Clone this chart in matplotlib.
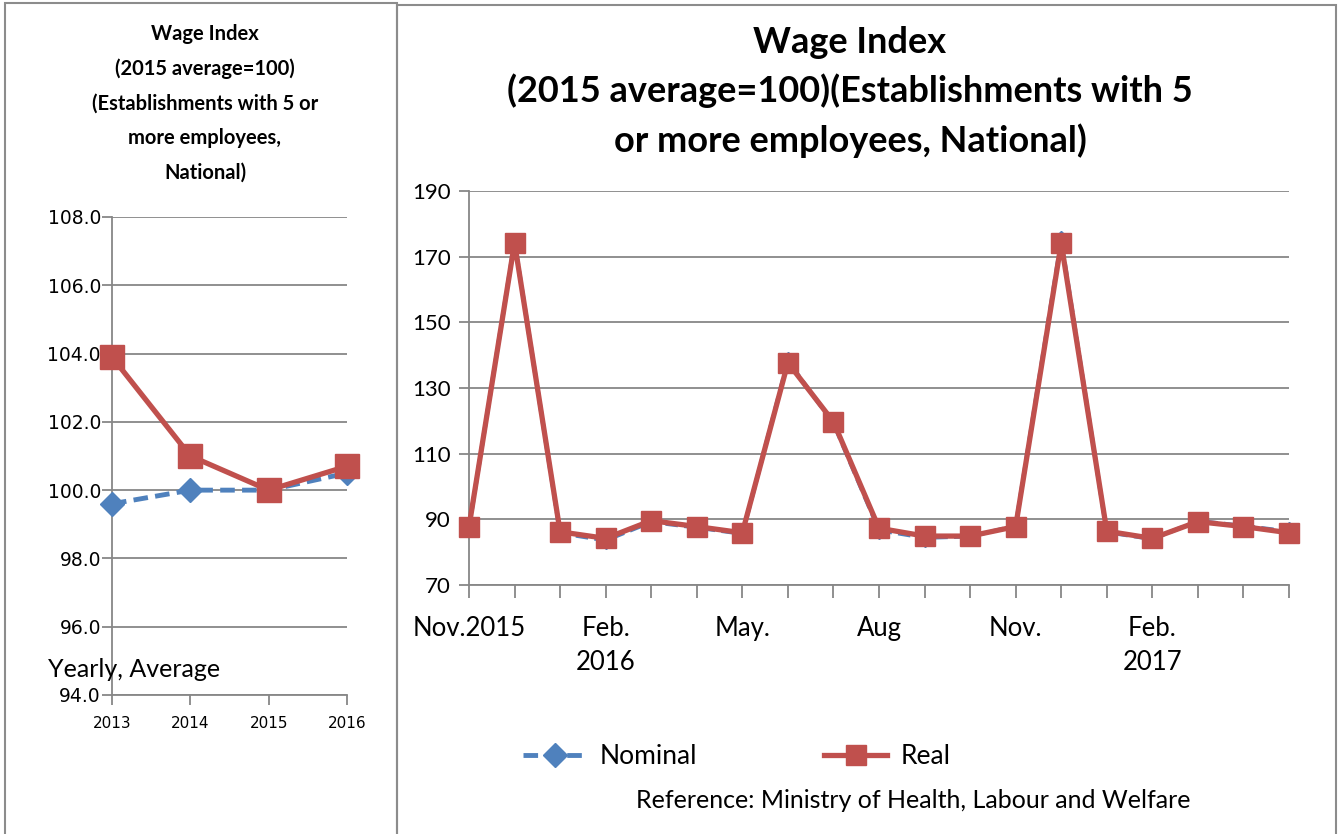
import matplotlib.pyplot as plt
from matplotlib.patches import Rectangle
from matplotlib.lines import Line2D

# yearly average (left panel)
years = ["2013", "2014", "2015", "2016"]
nominal_year = [99.6, 100.0, 100.0, 100.5]
real_year = [103.9, 101.0, 100.0, 100.7]

# monthly, Nov.2015 - May 2017 (right panel)
month_labels = ["Nov.2015", "", "", "Feb.\n2016", "", "", "May.", "", "", "Aug",
                "", "", "Nov.", "", "", "Feb.\n2017", "", "", ""]
nominal_month = [87.5, 174.5, 85.8, 83.6, 89.2, 87.5, 85.6, 138.2, 119.3, 86.7,
                 84.4, 84.8, 88.0, 175.0, 86.1, 84.0, 89.5, 88.0, 86.3]
real_month = [87.7, 174.2, 86.2, 84.2, 89.6, 87.8, 85.9, 137.7, 119.7, 87.3,
              84.9, 84.9, 87.8, 174.1, 86.4, 84.2, 89.3, 87.8, 85.9]

BLUE = "#4F81BD"
RED = "#C0504D"
GRID = "#878787"
FONT = "Lato"

fig = plt.figure(figsize=(13.38, 8.34), dpi=100)

# panel frames
W, H = 1338, 834
fig.add_artist(Rectangle((5 / W, -0.05), 392 / W, 1.05 - 3 / H, transform=fig.transFigure,
                         fill=False, edgecolor="#8c8c8c", lw=1.5))
fig.add_artist(Rectangle((397 / W, -0.05), 939 / W, 1.05 - 5 / H, transform=fig.transFigure,
                         fill=False, edgecolor="#8c8c8c", lw=1.5))


def style_axes(ax):
    for s in ["top", "right"]:
        ax.spines[s].set_visible(False)
    ax.spines["left"].set_color(GRID)
    ax.spines["bottom"].set_color(GRID)
    ax.spines["left"].set_linewidth(1.3)
    ax.spines["bottom"].set_linewidth(1.3)
    ax.yaxis.grid(True, color=GRID, lw=1.3)
    ax.set_axisbelow(True)
    ax.tick_params(axis="both", color=GRID, width=1.3, length=7)


# ---- left panel
ax1 = fig.add_axes([112 / W, 1 - 695 / H, 235 / W, 478 / H])
style_axes(ax1)
xs = range(len(years))
ax1.plot(xs, nominal_year, color=BLUE, lw=3.5, ls=(0, (3, 1.5)), marker="D", ms=12,
         clip_on=False, zorder=3)
ax1.plot(xs, real_year, color=RED, lw=3.8, marker="s", ms=17, clip_on=False, zorder=4)
ax1.set_xlim(0, 3)
ax1.set_ylim(94, 108)
ax1.set_yticks([94, 96, 98, 100, 102, 104, 106, 108])
ax1.set_yticklabels([f"{v:.1f}" for v in ax1.get_yticks()], fontsize=13.5)
ax1.tick_params(axis="y", pad=1)
ax1.set_xticks(list(xs))
ax1.set_xticklabels(years, fontsize=11)
ax1.tick_params(axis="x", pad=8)
ax1.text(-0.82, 94.76, "Yearly, Average", fontsize=18, ha="left", va="center", family=FONT)
fig.text(205 / W, 1 - 103 / H,
         "Wage Index\n(2015 average=100)\n(Establishments with 5 or\nmore employees,\nNational)",
         ha="center", va="center", fontsize=14.5, fontweight="bold", family=FONT,
         linespacing=1.9)

# ---- right panel
ax2 = fig.add_axes([469 / W, 1 - 585 / H, 820 / W, 394 / H])
style_axes(ax2)
xm = range(len(real_month))
ax2.plot(xm, nominal_month, color=BLUE, lw=3.0, ls=(0, (3, 1.5)), marker="D", ms=9,
         clip_on=False, zorder=3)
ax2.plot(xm, real_month, color=RED, lw=3.8, marker="s", ms=15, clip_on=False, zorder=4)
ax2.set_xlim(0, len(real_month) - 1)
ax2.set_ylim(70, 190)
ax2.set_yticks(range(70, 191, 20))
ax2.set_yticklabels([str(v) for v in range(70, 191, 20)], fontsize=16, family=FONT)
ax2.tick_params(axis="y", pad=6)
ax2.set_xticks(list(xm))
ax2.set_xticklabels(month_labels, fontsize=18.5, family=FONT, linespacing=1.45, va="top")
ax2.tick_params(axis="x", pad=13, length=9)
fig.text(850 / W, 1 - 92 / H,
         "Wage Index\n(2015 average=100)(Establishments with 5\nor more employees, National)",
         ha="center", va="center", fontsize=26, fontweight="bold", family=FONT,
         linespacing=1.52)

# legend
handles = [Line2D([], [], color=BLUE, lw=3.5, ls=(0, (3, 1.5)), marker="D", ms=12),
           Line2D([], [], color=RED, lw=3.8, marker="s", ms=15)]
fig.legend(handles, ["Nominal", "Real"], loc="center", bbox_to_anchor=(737 / W, 1 - 757 / H),
           ncol=2, frameon=False, handlelength=2.4, handletextpad=0.5, columnspacing=4.8,
           prop={"family": FONT, "size": 19})
fig.text(913 / W, 1 - 801 / H, "Reference: Ministry of Health, Labour and Welfare",
         ha="center", va="center", fontsize=18, family=FONT)

fig.savefig("out.png", dpi=100)
